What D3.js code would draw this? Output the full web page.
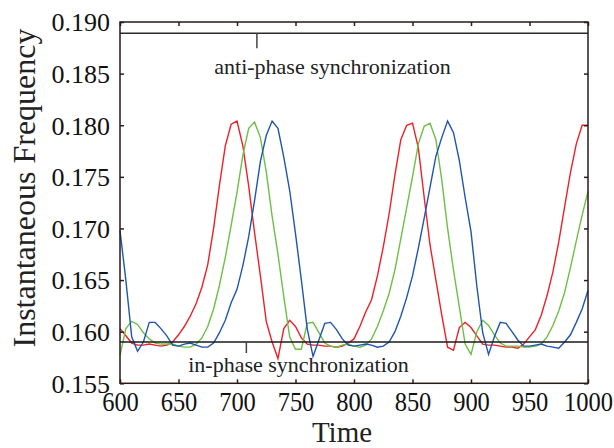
<!DOCTYPE html>
<html>
<head>
<meta charset="utf-8">
<script src="https://cdn.jsdelivr.net/npm/d3@7"></script>
<style>
  body { margin: 0; background: #fff; }
  svg { display: block; }
  .axis text { font-family: "Liberation Serif", "Times New Roman", serif; fill: #111; }
  .axis line { stroke: #222; stroke-width: 1.5; }
  .axis path { display: none; }
</style>
</head>
<body>
<svg class="chart"></svg>
<script>
//Sampled times of the three oscillators
var times = [600, 605, 610, 615, 620, 625, 630, 635, 640, 645,
  650, 655, 660, 665, 670, 675, 680, 685, 690, 695,
  700, 705, 710, 715, 720, 725, 730, 735, 740, 745,
  750, 755, 760, 765, 770, 775, 780, 785, 790, 795,
  800, 805, 810, 815, 820, 825, 830, 835, 840, 845,
  850, 855, 860, 865, 870, 875, 880, 885, 890, 895,
  900, 905, 910, 915, 920, 925, 930, 935, 940, 945,
  950, 955, 960, 965, 970, 975, 980, 985, 990, 995, 1000];

//Instantaneous frequency
var redFreq = [0.1603, 0.1596, 0.1589, 0.1587, 0.1587, 0.1588, 0.1587, 0.1586, 0.1587, 0.1590,
  0.1597, 0.1605, 0.1615, 0.1627, 0.1643, 0.1665, 0.1700, 0.1742, 0.1780, 0.1801,
  0.1804, 0.1780, 0.1741, 0.1696, 0.1654, 0.1610, 0.1590, 0.1574, 0.1603, 0.1611,
  0.1605, 0.1594, 0.1588, 0.1587, 0.1587, 0.1586, 0.1586, 0.1585, 0.1586, 0.1589,
  0.1593, 0.1605, 0.1619, 0.1631, 0.1654, 0.1682, 0.1714, 0.1752, 0.1786, 0.1800,
  0.1802, 0.1778, 0.1730, 0.1684, 0.1650, 0.1616, 0.1585, 0.1582, 0.1604, 0.1609,
  0.1604, 0.1596, 0.1588, 0.1587, 0.1587, 0.1586, 0.1585, 0.1585, 0.1584, 0.1588,
  0.1595, 0.1602, 0.1616, 0.1635, 0.1658, 0.1687, 0.1721, 0.1754, 0.1782, 0.1800, 0.1800];

var greenFreq = [0.1577, 0.1603, 0.1610, 0.1607, 0.1599, 0.1593, 0.1589, 0.1588, 0.1588, 0.1588,
  0.1586, 0.1585, 0.1585, 0.1588, 0.1594, 0.1605, 0.1622, 0.1645, 0.1672, 0.1703,
  0.1735, 0.1771, 0.1797, 0.1803, 0.1788, 0.1755, 0.1712, 0.1675, 0.1634, 0.1595,
  0.1583, 0.1583, 0.1608, 0.1609, 0.1599, 0.1589, 0.1586, 0.1585, 0.1587, 0.1588,
  0.1586, 0.1585, 0.1587, 0.1593, 0.1605, 0.1620, 0.1637, 0.1660, 0.1690, 0.1720,
  0.1750, 0.1782, 0.1799, 0.1802, 0.1786, 0.1747, 0.1700, 0.1660, 0.1624, 0.1588,
  0.1578, 0.1600, 0.1611, 0.1606, 0.1597, 0.1589, 0.1586, 0.1586, 0.1586, 0.1585,
  0.1585, 0.1586, 0.1588, 0.1595, 0.1606, 0.1620, 0.1638, 0.1662, 0.1688, 0.1713, 0.1736];

var blueFreq = [0.1698, 0.1650, 0.1595, 0.1581, 0.1590, 0.1609, 0.1609, 0.1603, 0.1596, 0.1587,
  0.1586, 0.1588, 0.1589, 0.1587, 0.1585, 0.1585, 0.1589, 0.1599, 0.1611, 0.1628,
  0.1641, 0.1664, 0.1692, 0.1727, 0.1765, 0.1790, 0.1804, 0.1797, 0.1769, 0.1737,
  0.1695, 0.1650, 0.1603, 0.1576, 0.1592, 0.1608, 0.1609, 0.1602, 0.1593, 0.1587,
  0.1586, 0.1587, 0.1588, 0.1587, 0.1585, 0.1586, 0.1590, 0.1600, 0.1615, 0.1633,
  0.1654, 0.1681, 0.1710, 0.1740, 0.1770, 0.1788, 0.1804, 0.1793, 0.1766, 0.1730,
  0.1697, 0.1644, 0.1599, 0.1578, 0.1595, 0.1609, 0.1608, 0.1600, 0.1592, 0.1586,
  0.1586, 0.1587, 0.1588, 0.1586, 0.1585, 0.1584, 0.1590, 0.1597, 0.1609, 0.1622, 0.1640];

//Reference levels and where their little markers sit
var antiPhaseLevel = 0.1889;
var inPhaseLevel = 0.1590;
var antiPhaseMark = 717;
var inPhaseMark = 708;

//Tick values
var xTicks = [600, 650, 700, 750, 800, 850, 900, 950, 1000];
var yTicks = [0.155, 0.160, 0.165, 0.170, 0.175, 0.180, 0.185, 0.190];

var serif = "'Liberation Serif', 'Times New Roman', serif";

var width1 = 614;
var height1 = 448;
var margin = {top: 22, right: 26, bottom: 64.7, left: 120};
var w = width1 - margin.left - margin.right;
var h = height1 - margin.top - margin.bottom;

var svg = d3.select(".chart")
    .attr("width", width1)
    .attr("height", height1);

var chart = svg.append("g")
    .attr("transform", "translate(" + margin.left + "," + margin.top + ")");

//Scales
var x = d3.scaleLinear().domain([600, 1000]).range([0, w]);
var y = d3.scaleLinear().domain([0.155, 0.190]).range([h, 0]);

//Curves
var series = [
  {values: redFreq, color: "#ee2027"},
  {values: greenFreq, color: "#6dbf46"},
  {values: blueFreq, color: "#1f55ae"}
];

var line = d3.line()
    .x(function(d, i) { return x(times[i]); })
    .y(function(d) { return y(d); });

series.forEach(function(s) {
  chart.append("path")
      .datum(s.values)
      .attr("fill", "none")
      .attr("stroke", s.color)
      .attr("stroke-width", 1.4)
      .attr("stroke-linejoin", "miter")
      .attr("d", line);
});

//Synchronization levels
chart.append("line")
    .attr("x1", 0).attr("x2", w)
    .attr("y1", y(antiPhaseLevel)).attr("y2", y(antiPhaseLevel))
    .attr("stroke", "#2a2a2a").attr("stroke-width", 1.5);

chart.append("line")
    .attr("x1", x(antiPhaseMark)).attr("x2", x(antiPhaseMark))
    .attr("y1", y(antiPhaseLevel)).attr("y2", y(antiPhaseLevel) + 15)
    .attr("stroke", "#444").attr("stroke-width", 1.5);

chart.append("line")
    .attr("x1", 0).attr("x2", w)
    .attr("y1", y(inPhaseLevel)).attr("y2", y(inPhaseLevel))
    .attr("stroke", "#1a1a1a").attr("stroke-width", 1.5);

chart.append("line")
    .attr("x1", x(inPhaseMark)).attr("x2", x(inPhaseMark))
    .attr("y1", y(inPhaseLevel)).attr("y2", y(inPhaseLevel) + 11)
    .attr("stroke", "#444").attr("stroke-width", 1.5);

chart.append("text")
    .attr("x", 212.5).attr("y", 52)
    .attr("text-anchor", "middle")
    .style("font-family", serif)
    .style("font-size", "22px")
    .style("fill", "#222")
    .text("anti-phase synchronization");

chart.append("text")
    .attr("x", 178.5).attr("y", 350)
    .attr("text-anchor", "middle")
    .style("font-family", serif)
    .style("font-size", "22px")
    .style("fill", "#222")
    .text("in-phase synchronization");

//Axes, ticks pointing inward on all four sides
var xAxis = chart.append("g")
    .attr("class", "axis")
    .attr("font-family", serif)
    .attr("transform", "translate(0," + h + ")")
    .call(d3.axisBottom(x).tickValues(xTicks).tickSizeInner(-4).tickSizeOuter(0)
      .tickFormat(d3.format("d")));

xAxis.selectAll("text")
    .attr("y", 0)
    .attr("dy", 0)
    .attr("transform", "translate(0,27.5) scale(1,1.1)")
    .style("font-family", serif)
    .style("font-size", "24.5px");

chart.append("g")
    .attr("class", "axis")
    .call(d3.axisTop(x).tickValues(xTicks).tickSizeInner(-4).tickSizeOuter(0).tickFormat(""));

chart.append("g")
    .attr("class", "axis")
    .attr("font-family", serif)
    .call(d3.axisLeft(y).tickValues(yTicks).tickSizeInner(-4).tickSizeOuter(0)
      .tickPadding(10).tickFormat(d3.format(".3f")))
  .selectAll("text")
    .attr("dy", "0.34em")
    .style("font-family", serif)
    .style("font-size", "26px");

chart.append("g")
    .attr("class", "axis")
    .attr("transform", "translate(" + w + ",0)")
    .call(d3.axisRight(y).tickValues(yTicks).tickSizeInner(-4).tickSizeOuter(0).tickFormat(""));

//Frame
chart.append("rect")
    .attr("width", w)
    .attr("height", h)
    .attr("fill", "none")
    .attr("stroke", "#2a1818")
    .attr("stroke-width", 1.5);

//Axis titles
svg.append("text")
    .attr("x", margin.left + w / 2 - 12)
    .attr("y", 442)
    .attr("text-anchor", "middle")
    .style("font-family", serif)
    .style("font-size", "29px")
    .style("fill", "#222")
    .text("Time");

svg.append("text")
    .attr("transform", "translate(35," + 188 + ") rotate(-90)")
    .attr("text-anchor", "middle")
    .style("font-family", serif)
    .style("font-size", "32px")
    .style("fill", "#222")
    .text("Instantaneous Frequency");
</script>
</body>
</html>
